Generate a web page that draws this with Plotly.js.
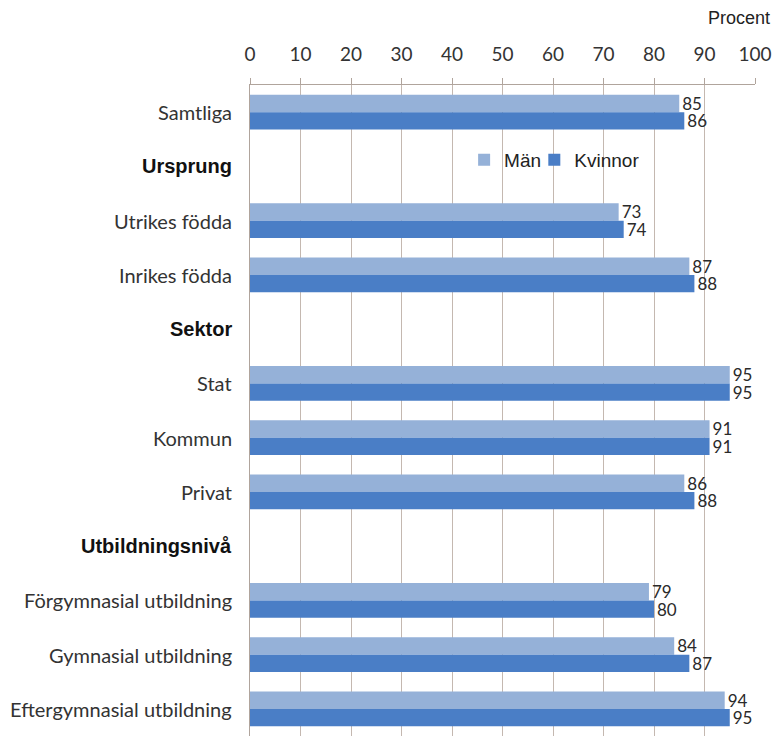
<!DOCTYPE html>
<html>
<head>
<meta charset="utf-8">
<script src="https://cdn.plot.ly/plotly-3.0.1.min.js"></script>
<style>html,body{margin:0;padding:0;background:#fff;}#chart{width:778px;height:736px;}</style>
</head>
<body>
<div id="chart"></div>
<script>
var categories = ["Samtliga","Ursprung","Utrikes födda","Inrikes födda","Sektor","Stat","Kommun","Privat","Utbildningsnivå","Förgymnasial utbildning","Gymnasial utbildning","Eftergymnasial utbildning"];
var headers = ["Ursprung","Sektor","Utbildningsnivå"];
var man = [85,null,73,87,null,95,91,86,null,79,84,94];
var kvinnor = [86,null,74,88,null,95,91,88,null,80,87,95];
var seriesNames = ["Män","Kvinnor"];
var xTicks = [0,10,20,30,40,50,60,70,80,90,100];

var labelFont = "Lato, 'Open Sans', sans-serif";
var arial = "'Liberation Sans', Arial, sans-serif";
var traces = [
  {type:"bar", orientation:"h", name:seriesNames[0], y:categories, x:man, legend:"legend",
   marker:{color:"#95b1d8"}, text:man.map(function(v){return v===null?"":String(v);}),
   textposition:"outside", constraintext:"none", cliponaxis:false,
   textfont:{family:labelFont,size:17,color:"#2a2a2a"}, hoverinfo:"x"},
  {type:"bar", orientation:"h", name:seriesNames[1], y:categories, x:kvinnor, legend:"legend2",
   marker:{color:"#4a7ec6"}, text:kvinnor.map(function(v){return v===null?"":String(v);}),
   textposition:"outside", constraintext:"none", cliponaxis:false,
   textfont:{family:labelFont,size:17,color:"#2a2a2a"}, hoverinfo:"x"}
];

var annotations = categories.map(function(c){
  var isH = headers.indexOf(c) >= 0;
  return {xref:"paper", yref:"y", x:0, y:c, xanchor:"right", yanchor:"middle", xshift:-16,
    text: isH ? "<b>"+c+"</b>" : c, showarrow:false,
    font: isH ? {family:arial, size:20, color:"#111"} : {family:labelFont, size:20, color:"#333"}};
});
annotations.push({xref:"paper", yref:"paper", x:1.034, y:1.103, xanchor:"right", yanchor:"middle",
  text:"Procent", showarrow:false, font:{family:arial, size:18, color:"#222"}});

var legendBase = {orientation:"h", y:0.885, xanchor:"left", yanchor:"middle", bgcolor:"rgba(0,0,0,0)",
  font:{family:arial, size:19, color:"#222"}, itemwidth:30};
var layout = {
  width:778, height:736,
  margin:{l:250, r:23, t:85, b:0},
  paper_bgcolor:"#fff", plot_bgcolor:"#fff",
  barmode:"group", bargap:0.36, bargroupgap:0,
  showlegend:true,
  legend:Object.assign({x:0.424}, legendBase),
  legend2:Object.assign({x:0.563}, legendBase),
  xaxis:{side:"top", range:[0,100], tickvals:xTicks, ticks:"outside", ticklen:6, tickcolor:"#b0a49c",
    showgrid:true, gridcolor:"#c4b8b0", gridwidth:1, zeroline:false, showline:true, linecolor:"#b0a49c",
    ticklabelstandoff:9, tickfont:{family:labelFont, size:19, color:"#333"}, fixedrange:true},
  yaxis:{type:"category", autorange:"reversed", showticklabels:false, ticks:"", showgrid:false,
    showline:true, linecolor:"#b0a49c", zeroline:false, fixedrange:true},
  annotations:annotations
};
Plotly.newPlot("chart", traces, layout, {displayModeBar:false, staticPlot:true});
</script>
</body>
</html>
